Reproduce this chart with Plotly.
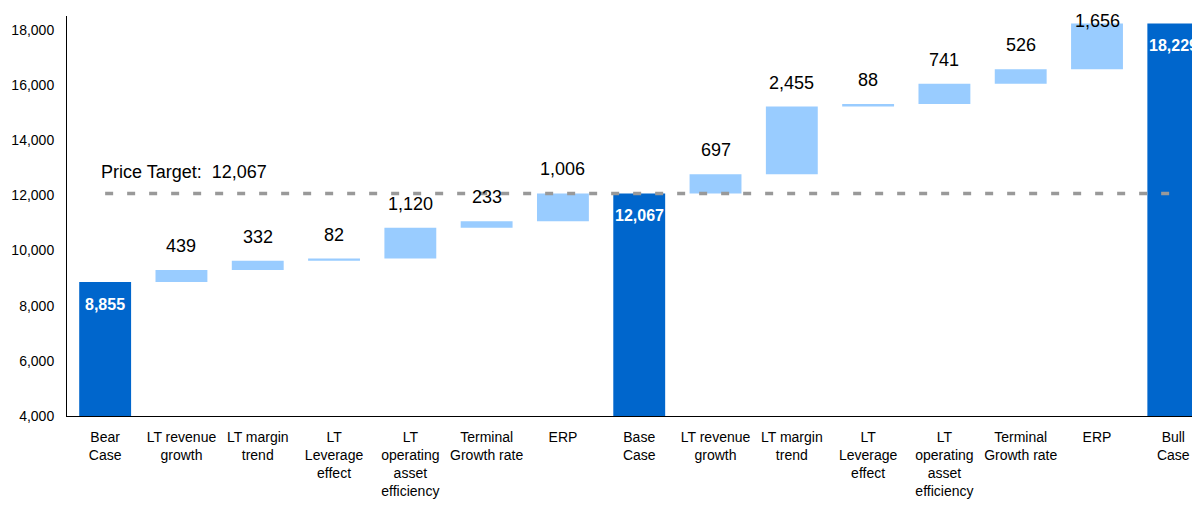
import plotly.graph_objects as go

categories = ["Bear<br>Case", "LT revenue<br>growth", "LT margin<br>trend", "LT<br>Leverage<br>effect",
              "LT<br>operating<br>asset<br>efficiency", "Terminal<br>Growth rate", "ERP",
              "Base<br>Case", "LT revenue<br>growth", "LT margin<br>trend", "LT<br>Leverage<br>effect",
              "LT<br>operating<br>asset<br>efficiency", "Terminal<br>Growth rate", "ERP", "Bull<br>Case"]
bear_case = 8855
steps_to_base = [439, 332, 82, 1120, 233, 1006]
base_case = 12067
steps_to_bull = [697, 2455, 88, 741, 526, 1656]
bull_case = 18229
price_target = 12067

DARK = "#0066CC"
LIGHT = "#99CCFF"
FONT = "Liberation Sans, Arial, sans-serif"
Y_MIN, Y_MAX = 4000, 18500

# build floating bars
total_x, total_y = [], []
inc_x, inc_base, inc_h = [], [], []
idx = 0
total_x.append(idx); total_y.append(bear_case); idx += 1
run = bear_case
for s in steps_to_base:
    inc_x.append(idx); inc_base.append(run); inc_h.append(s); run += s; idx += 1
total_x.append(idx); total_y.append(base_case); idx += 1
run = base_case
for s in steps_to_bull:
    inc_x.append(idx); inc_base.append(run); inc_h.append(s); run += s; idx += 1
total_x.append(idx); total_y.append(bull_case)

fig = go.Figure()
fig.add_trace(go.Bar(x=total_x, y=total_y, marker=dict(color=DARK, line=dict(width=0)),
                     width=0.68, showlegend=False, hoverinfo="skip"))
fig.add_trace(go.Bar(x=inc_x, y=inc_h, base=inc_base, marker=dict(color=LIGHT, line=dict(width=0)),
                     width=0.68, showlegend=False, hoverinfo="skip"))
fig.add_trace(go.Scatter(x=[total_x[0], total_x[-1]], y=[price_target, price_target], mode="lines",
                         line=dict(color="#999999", width=3.5, dash="8px,14px"),
                         showlegend=False, hoverinfo="skip"))

annotations = []
for x, v in zip(total_x, total_y):
    annotations.append(dict(x=x, y=v, text=f"<b>{v:,}</b>", showarrow=False, yanchor="middle",
                            yshift=-22, font=dict(family=FONT, size=16, color="white")))
for x, b, h in zip(inc_x, inc_base, inc_h):
    top = min(b + h, Y_MAX - 1050)
    annotations.append(dict(x=x, y=top, text=f"{h:,}", showarrow=False, yanchor="middle",
                            yshift=24, font=dict(family=FONT, size=18, color="black")))
annotations.append(dict(x=total_x[0], y=price_target, text=f"Price Target:  {price_target:,}",
                        showarrow=False, xanchor="left", yanchor="middle", xshift=-6, yshift=21,
                        font=dict(family=FONT, size=18, color="black")))

fig.update_layout(
    width=1192, height=506,
    margin=dict(l=67, r=0, t=16, b=90),
    paper_bgcolor="white", plot_bgcolor="white",
    bargap=0.3,
    annotations=annotations,
    font=dict(family=FONT, size=14, color="black"),
    xaxis=dict(range=[-0.5, 14.245], tickmode="array", tickvals=list(range(len(categories))),
               ticktext=categories, showline=True, linecolor="black", linewidth=1,
               showgrid=False, zeroline=False, ticks="", ticklabelstandoff=8,
               tickfont=dict(size=14, family=FONT)),
    yaxis=dict(range=[Y_MIN, Y_MAX], tick0=4000, dtick=2000, tickformat=",", showline=True,
               linecolor="black", linewidth=1, showgrid=False, zeroline=False, ticks="",
               ticklabelstandoff=9, tickfont=dict(size=14, family=FONT)),
)

fig.write_html("out.html")
